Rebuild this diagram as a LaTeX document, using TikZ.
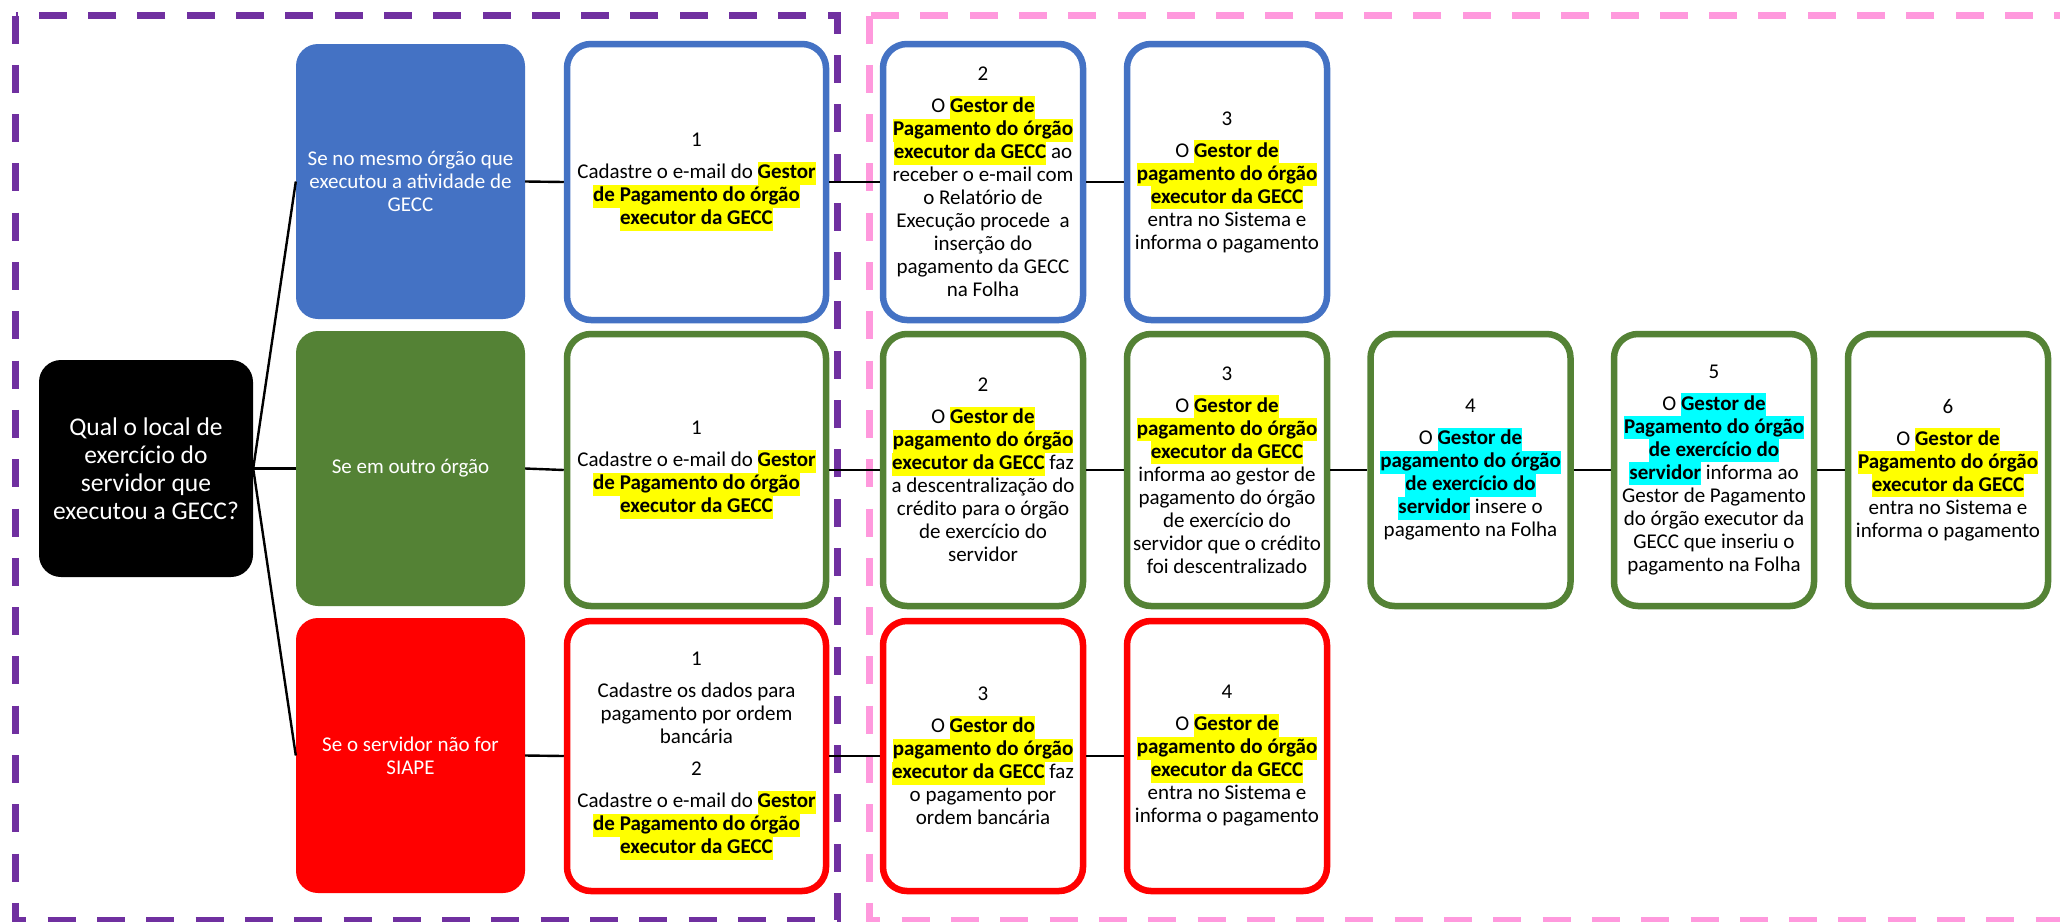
\documentclass[tikz,border=0pt]{standalone}
\usepackage{fontspec}
\setmainfont{Carlito}
\definecolor{gblue}{HTML}{4472C4}
\definecolor{ggreen}{HTML}{548235}
\definecolor{gred}{HTML}{FF0000}
\definecolor{gpurple}{HTML}{7030A0}
\definecolor{gpink}{HTML}{FF99DD}
\definecolor{hlyel}{HTML}{FFFF00}
\definecolor{hlcyan}{HTML}{00FFFF}
\newcommand{\hly}[1]{{\setlength{\fboxsep}{0pt}\colorbox{hlyel}{\rule[-6pt]{0pt}{23pt}\textbf{#1}}}}
\newcommand{\hlc}[1]{{\setlength{\fboxsep}{0pt}\colorbox{hlcyan}{\rule[-6pt]{0pt}{23pt}\textbf{#1}}}}
\tikzset{
  txt/.style={font=\fontsize{21pt}{23pt}\selectfont, align=center, inner sep=0pt},
  lbox/.style={txt, rounded corners=22pt, text=white, minimum width=229pt, minimum height=275pt},
  cbox/.style={txt, draw, line width=6.5pt, rounded corners=24pt, fill=white, text=black},
  bluebox/.style={cbox, draw=gblue, minimum height=276pt},
  greenbox/.style={cbox, draw=ggreen, minimum height=272pt},
  redbox/.style={cbox, draw=gred, minimum height=270pt},
  wone/.style={minimum width=259pt},
  wn/.style={minimum width=200pt},
  conn/.style={draw=black, line width=2.4pt},
  frame/.style={line width=6.7pt, dash pattern=on 28pt off 21.3pt}
}
\begin{document}
\begin{tikzpicture}[x=1pt,y=-1pt]
\useasboundingbox (0,0) rectangle (2060,921);
\fill[white] (0,0) rectangle (2060,921);
\draw[frame, gpurple] (15.5,15.5) rectangle (837.5,920);
\draw[frame, gpink] (869.5,15.5) rectangle (2075,920);

% question
\node[txt, fill=black, text=white, rounded corners=22pt, minimum width=214pt, minimum height=217pt,
      font=\fontsize{25.5pt}{28pt}\selectfont] (Q) at (146,468.5)
  {Qual o local de\\exercício do\\servidor que\\executou a GECC?};

% left options
\node[lbox, fill=gblue] (L1) at (410.5,181.5) {Se no mesmo órgão que\\executou a atividade de\\GECC};
\node[lbox, fill=ggreen] (L2) at (410.5,468.5) {Se em outro órgão};
\node[lbox, fill=gred] (L3) at (410.5,755.5) {Se o servidor não for\\SIAPE};

% blue row
\node[bluebox, wone] (B1) at (696.5,182) {1\\[9pt]Cadastre o e-mail do \hly{Gestor}\\\hly{de Pagamento do órgão}\\\hly{executor da GECC}};
\node[bluebox, wn] (B2) at (983,182) {2\\[9pt]O \hly{Gestor de}\\\hly{Pagamento do órgão}\\\hly{executor da GECC} ao\\receber o e-mail com\\o Relatório de\\Execução procede\ \ a\\inserção do\\pagamento da GECC\\na Folha};
\node[bluebox, wn] (B3) at (1227,182) {3\\[9pt]O \hly{Gestor de}\\\hly{pagamento do órgão}\\\hly{executor da GECC}\\entra no Sistema e\\informa o pagamento};

% green row
\node[greenbox, wone] (G1) at (696.5,470) {1\\[9pt]Cadastre o e-mail do \hly{Gestor}\\\hly{de Pagamento do órgão}\\\hly{executor da GECC}};
\node[greenbox, wn] (G2) at (983,470) {2\\[9pt]O \hly{Gestor de}\\\hly{pagamento do órgão}\\\hly{executor da GECC} faz\\a descentralização do\\crédito para o órgão\\de exercício do\\servidor};
\node[greenbox, wn] (G3) at (1227,470) {3\\[9pt]O \hly{Gestor de}\\\hly{pagamento do órgão}\\\hly{executor da GECC}\\informa ao gestor de\\pagamento do órgão\\de exercício do\\servidor que o crédito\\foi descentralizado};
\node[greenbox, wn] (G4) at (1470.5,470) {4\\[9pt]O \hlc{Gestor de}\\\hlc{pagamento do órgão}\\\hlc{de exercício do}\\\hlc{servidor} insere o\\pagamento na Folha};
\node[greenbox, wn] (G5) at (1714,470) {5\\[9pt]O \hlc{Gestor de}\\\hlc{Pagamento do órgão}\\\hlc{de exercício do}\\\hlc{servidor} informa ao\\Gestor de Pagamento\\do órgão executor da\\GECC que inseriu o\\pagamento na Folha};
\node[greenbox, wn] (G6) at (1948,470) {6\\[9pt]O \hly{Gestor de}\\\hly{Pagamento do órgão}\\\hly{executor da GECC}\\entra no Sistema e\\informa o pagamento};

% red row
\node[redbox, wone] (R1) at (696.5,756) {1\\[9pt]Cadastre os dados para\\pagamento por ordem\\bancária\\[9pt]2\\[9pt]Cadastre o e-mail do \hly{Gestor}\\\hly{de Pagamento do órgão}\\\hly{executor da GECC}};
\node[redbox, wn] (R2) at (983,756) {3\\[9pt]O \hly{Gestor do}\\\hly{pagamento do órgão}\\\hly{executor da GECC} faz\\o pagamento por\\ordem bancária};
\node[redbox, wn] (R3) at (1227,756) {4\\[9pt]O \hly{Gestor de}\\\hly{pagamento do órgão}\\\hly{executor da GECC}\\entra no Sistema e\\informa o pagamento};

% connectors
\draw[conn] (Q.east) -- (L1.west);
\draw[conn] (Q.east) -- (L2.west);
\draw[conn] (Q.east) -- (L3.west);
\draw[conn] (L1.east) -- (B1.west);
\draw[conn] (B1.east) -- (B2.west);
\draw[conn] (B2.east) -- (B3.west);
\draw[conn] (L2.east) -- (G1.west);
\draw[conn] (G1.east) -- (G2.west);
\draw[conn] (G2.east) -- (G3.west);
\draw[conn] (G3.east) -- (G4.west);
\draw[conn] (G4.east) -- (G5.west);
\draw[conn] (G5.east) -- (G6.west);
\draw[conn] (L3.east) -- (R1.west);
\draw[conn] (R1.east) -- (R2.west);
\draw[conn] (R2.east) -- (R3.west);
\end{tikzpicture}
\end{document}
